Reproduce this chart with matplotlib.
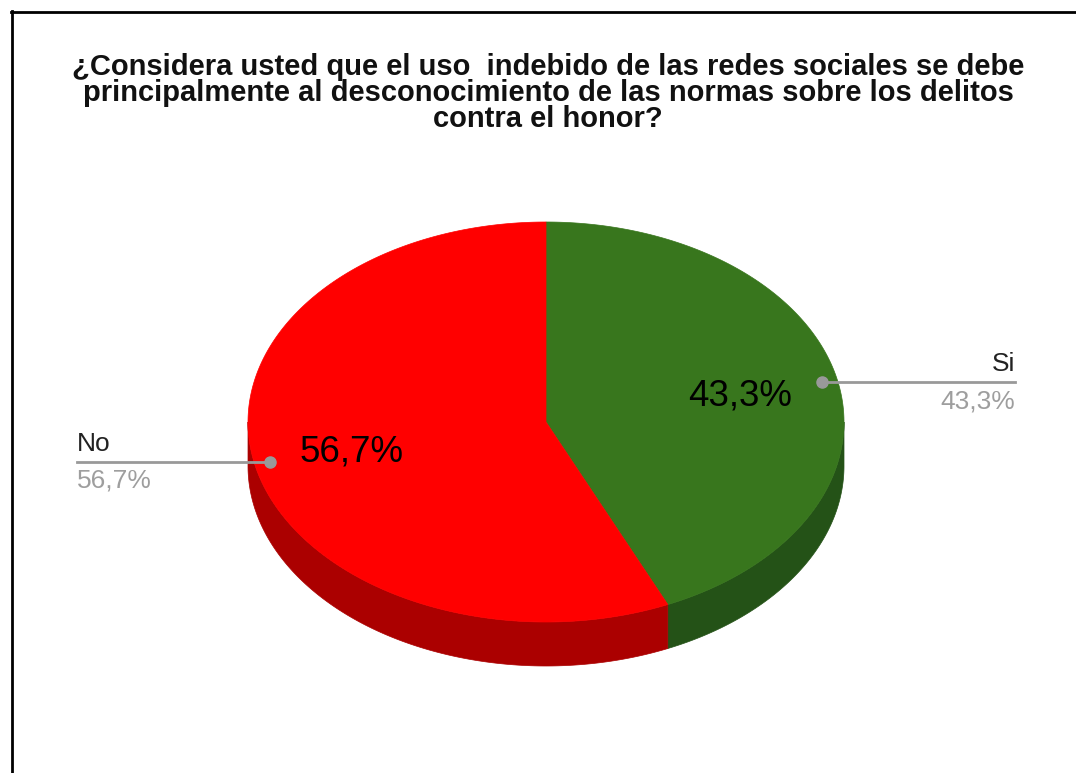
import numpy as np
import matplotlib

matplotlib.use("Agg")
import matplotlib.pyplot as plt
from matplotlib.patches import Polygon
from matplotlib.lines import Line2D

# data
labels = ["Si", "No"]
values = [43.3, 56.7]
top_colors = ["#38761d", "#ff0000"]
side_colors = ["#245217", "#ab0000"]
title_lines = [
    "¿Considera usted que el uso  indebido de las redes sociales se debe",
    "principalmente al desconocimiento de las normas sobre los delitos",
    "contra el honor?",
]

plt.rcParams["font.family"] = ["Liberation Sans", "DejaVu Sans"]

W, H = 1076, 773
fig = plt.figure(figsize=(W / 100, H / 100), dpi=100)
ax = fig.add_axes([0, 0, 1, 1])
ax.set_xlim(0, W)
ax.set_ylim(H, 0)
ax.axis("off")

# pie geometry (pixel units, y downward)
cx, cy, rx, ry, depth = 546, 422, 298, 200, 44


def pt(theta, f=1.0, dy=0.0):
    # theta in degrees, clockwise from 12 o'clock
    t = np.radians(theta)
    return cx + rx * f * np.sin(t), cy - ry * f * np.cos(t) + dy


fracs = np.array(values) / sum(values)
bounds = np.concatenate([[0], np.cumsum(fracs) * 360])

# side walls (only the front half, 90..270 deg, is visible)
for i in range(len(values)):
    a, b = max(bounds[i], 90), min(bounds[i + 1], 270)
    if b <= a:
        continue
    th = np.linspace(a, b, 200)
    xs, ys = pt(th)
    poly = np.column_stack([np.concatenate([xs, xs[::-1]]),
                            np.concatenate([ys, (ys + depth)[::-1]])])
    ax.add_patch(Polygon(poly, closed=True, facecolor=side_colors[i],
                         edgecolor=side_colors[i], lw=0.5))

# top faces
for i in range(len(values)):
    th = np.linspace(bounds[i], bounds[i + 1], 300)
    xs, ys = pt(th)
    poly = np.column_stack([np.concatenate([[cx], xs]), np.concatenate([[cy], ys])])
    ax.add_patch(Polygon(poly, closed=True, facecolor=top_colors[i],
                         edgecolor=top_colors[i], lw=0.5))

# labels
for i, (lab, v) in enumerate(zip(labels, values)):
    mid = (bounds[i] + bounds[i + 1]) / 2
    txt = f"{v:.1f}%".replace(".", ",")
    ix, iy = pt(mid, 0.666)
    ax.text(ix, iy + 2, txt, fontsize=26.5, ha="center", va="center", color="black")
    dx, dy = pt(mid, 0.947)
    right = np.sin(np.radians(mid)) > 0
    ex = 1015 if right else 77
    ha = "right" if right else "left"
    ax.add_line(Line2D([dx, ex], [dy, dy], color="#999999", lw=2))
    ax.plot(dx, dy, "o", color="#999999", ms=8)
    ax.text(ex, dy - 6, lab, fontsize=19, ha=ha, va="bottom", color="#222222")
    ax.text(ex, dy + 7, txt, fontsize=19, ha=ha, va="top", color="#9e9e9e")

for k, line in enumerate(title_lines):
    ax.text(548, 75 + 26 * k, line, fontsize=21, fontweight="bold",
            ha="center", va="baseline", color="#111111")

# frame lines
ax.add_line(Line2D([11, W], [12, 12], color="black", lw=2))
ax.add_line(Line2D([12, 12], [11, H], color="black", lw=2))

fig.savefig("out.png", dpi=100, facecolor="white")
